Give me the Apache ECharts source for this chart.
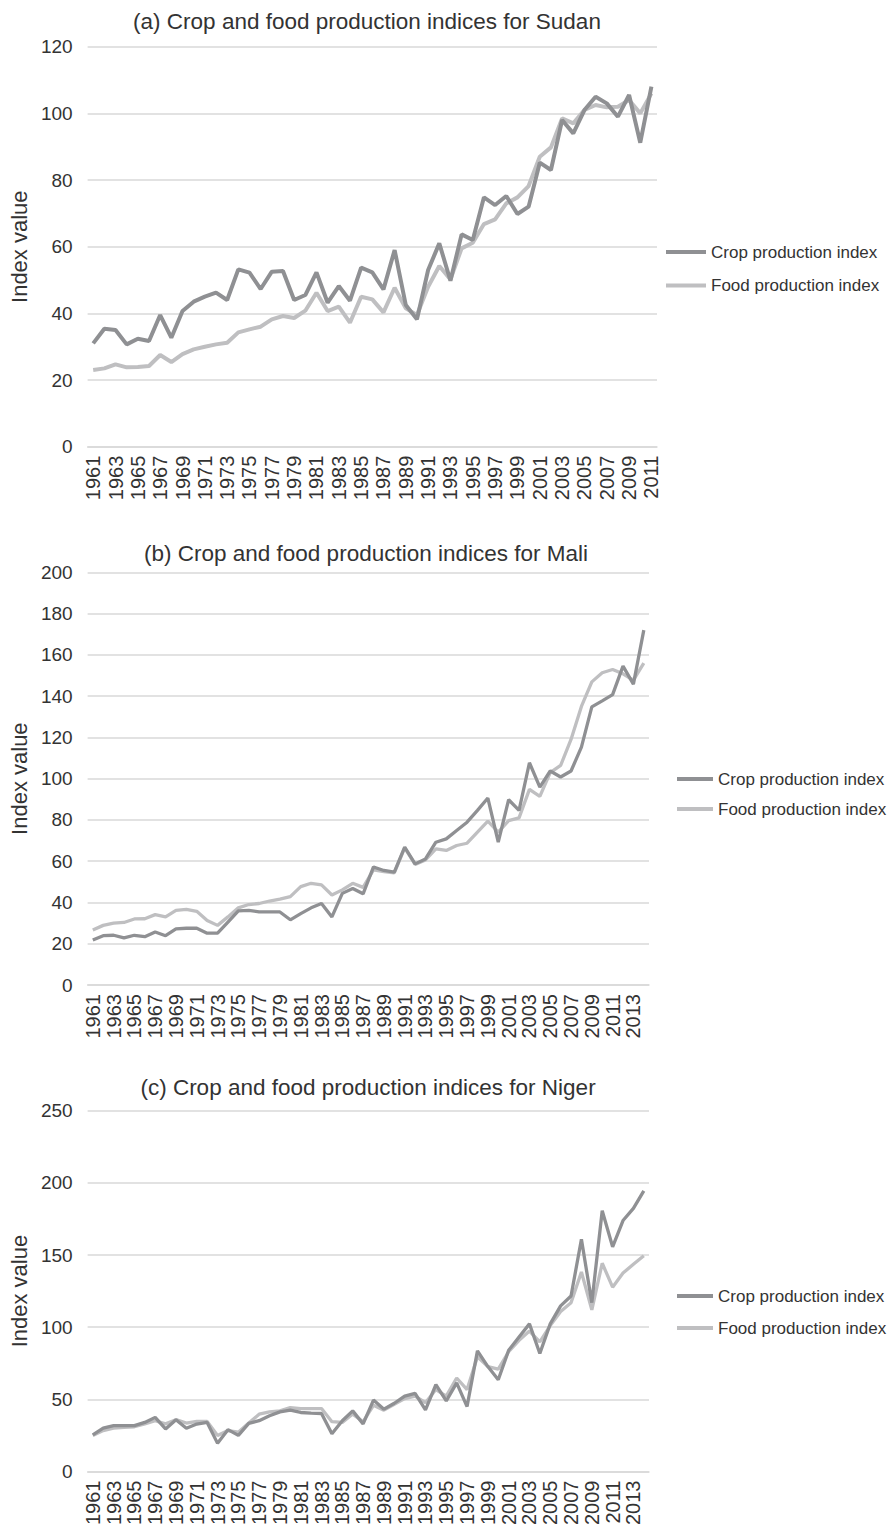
<!DOCTYPE html>
<html>
<head>
<meta charset="utf-8">
<title>Crop and food production indices</title>
<script src="https://cdn.jsdelivr.net/npm/echarts@6.0.0/dist/echarts.min.js"></script>
<style>
  html, body { margin: 0; padding: 0; background: #ffffff; }
  #chart { width: 887px; height: 1528px; }
</style>
</head>
<body>
<div id="chart"></div>
<script>
// Years on the category axes
const years = ['1961','1962','1963','1964','1965','1966','1967','1968','1969','1970',
  '1971','1972','1973','1974','1975','1976','1977','1978','1979','1980',
  '1981','1982','1983','1984','1985','1986','1987','1988','1989','1990',
  '1991','1992','1993','1994','1995','1996','1997','1998','1999','2000',
  '2001','2002','2003','2004','2005','2006','2007','2008','2009','2010',
  '2011','2012','2013','2014'];
const sudanYears = years.slice(0, 51);   // 1961-2011

// (a) Sudan
const sudanCrop = [31, 35.4, 35, 30.7, 32.4, 31.7, 39.5, 32.7, 40.7, 43.5,
  45, 46.2, 44, 53.2, 52.2, 47.3, 52.5, 52.7, 44, 45.5,
  52.3, 43.2, 48.2, 43.8, 53.7, 52.3, 47.2, 59, 42.5, 38.2,
  53, 61, 49.8, 63.7, 62, 74.8, 72.5, 75.2, 69.8, 72,
  85.2, 83, 98, 94, 101, 105, 103, 99, 105.5, 91.2,
  108];
const sudanFood = [23, 23.5, 24.7, 23.8, 23.9, 24.2, 27.5, 25.4, 27.8, 29.2,
  30, 30.7, 31.2, 34.3, 35.2, 36, 38.2, 39.2, 38.6, 40.8,
  46.2, 40.7, 42, 37.2, 45, 44.2, 40.3, 47.7, 41.5, 39.5,
  48, 54.2, 50.2, 59.5, 61.2, 66.8, 68.2, 73, 74.8, 78.2,
  87, 89.8, 98.5, 97, 101, 102.5, 101.8, 102, 104, 100,
  106];

// (b) Mali
const maliCrop = [21.8, 23.9, 24.1, 22.8, 24.1, 23.4, 25.7, 23.9, 27.2, 27.5,
  27.5, 25.1, 25.1, 30.5, 35.9, 36.2, 35.4, 35.4, 35.4, 31.6,
  34.6, 37.4, 39.5, 33, 44.4, 46.8, 44.2, 57.2, 55.5, 54.7,
  66.8, 58.7, 61.1, 69.2, 70.8, 74.9, 78.9, 84.6, 90.6, 69.2,
  89.8, 84.6, 107.7, 95.9, 103.7, 100.8, 103.7, 115.3, 134.8, 137.7,
  140.7, 154.5, 145.8, 172];
const maliFood = [26.7, 28.9, 30, 30.3, 32, 32.1, 34.1, 33, 36.2, 36.6,
  35.7, 31.3, 28.9, 33, 37.4, 39, 39.5, 40.7, 41.6, 42.8,
  47.7, 49.3, 48.5, 43.6, 46.1, 49.3, 47.3, 55.8, 55, 54.3,
  66.5, 58.4, 60.6, 66, 65.2, 67.6, 68.7, 74.1, 79.4, 74.1,
  79.7, 81, 94.8, 91.4, 102.9, 106.4, 119, 135, 146.9, 151.3,
  152.9, 150.8, 147.7, 156];

// (c) Niger
const nigerCrop = [25.4, 30, 31.8, 31.8, 31.8, 34, 37.5, 29.5, 35.9, 30,
  32.9, 34, 19.5, 29, 25, 33.4, 35.2, 38.6, 41.3, 42.5,
  40.9, 40.4, 40.2, 26.1, 35.2, 42, 33, 49.5, 43.2, 47.3,
  52.3, 54.1, 42.7, 60.2, 48.9, 61.4, 45, 83.6, 72.7, 63.6,
  84, 93.2, 102.3, 81.8, 102.3, 114.8, 121.6, 160.9, 117, 180.7,
  155.7, 173.9, 182.3, 194.5];
const nigerFood = [25, 28.4, 30, 30.6, 31, 32.9, 35.2, 33, 35.9, 33.6,
  34.7, 34.7, 25, 28.4, 27.2, 33.6, 39.7, 41.3, 42, 44.3,
  43.6, 43.6, 43.6, 34.5, 34, 39.8, 34.5, 45.9, 42.5, 46.6,
  50.5, 52.3, 47.7, 56.8, 52.3, 64.8, 56.8, 79.5, 72.7, 70.9,
  83, 90.9, 97.3, 89.8, 101.1, 110.9, 117, 138.2, 112, 144.3,
  127.7, 137.5, 143.6, 149.5];

const seriesNames = ['Crop production index', 'Food production index'];
const titles = [
  '(a) Crop and food production indices for Sudan',
  '(b) Crop and food production indices for Mali',
  '(c) Crop and food production indices for Niger'
];
const yTicks = [
  { max: 120, step: 20 },
  { max: 200, step: 20 },
  { max: 250, step: 50 }
];

const FONT = '"Liberation Sans", Arial, Helvetica, sans-serif';
const TEXT = '#333333';
const GRIDLINE = '#d9d9d9';
const CROP_COLOR = '#8f9093';
const FOOD_COLOR = '#bfbfc1';

// Layout of the three stacked panels
const panels = [
  { cats: sudanYears, crop: sudanCrop, food: sudanFood,
    grid: { left: 77, top: 46.7, width: 580, height: 400 },
    nameGap: 41, lineWidth: 4, titleX: 367, titleY: 21,
    legend: { left: 666, top: 243.5, itemGap: 16.5, itemWidth: 40 } },
  { cats: years, crop: maliCrop, food: maliFood,
    grid: { left: 82, top: 572.3, width: 567, height: 412.7 },
    nameGap: 51, lineWidth: 3.3, titleX: 366, titleY: 553,
    legend: { left: 677, top: 770.5, itemGap: 13, itemWidth: 36 } },
  { cats: years, crop: nigerCrop, food: nigerFood,
    grid: { left: 85, top: 1110.7, width: 564, height: 366 },
    nameGap: 54, lineWidth: 3.3, titleX: 368, titleY: 1087,
    legend: { left: 677, top: 1287.5, itemGap: 15, itemWidth: 36 } }
];

const option = {
  animation: false,
  backgroundColor: '#ffffff',
  textStyle: { fontFamily: FONT },
  grid: [], xAxis: [], yAxis: [], series: [], legend: [], graphic: []
};

panels.forEach((p, i) => {
  option.grid.push(Object.assign({ containLabel: false }, p.grid));

  option.xAxis.push({
    type: 'category',
    gridIndex: i,
    data: p.cats,
    boundaryGap: true,
    axisTick: { show: false },
    axisLine: { show: true, lineStyle: { color: GRIDLINE, width: 1.5 } },
    axisLabel: {
      interval: 1, rotate: 90, margin: 9,
      fontSize: 20, color: TEXT, fontFamily: FONT
    },
    splitLine: { show: false }
  });

  option.yAxis.push({
    type: 'value',
    gridIndex: i,
    min: 0, max: yTicks[i].max, interval: yTicks[i].step,
    name: 'Index value',
    nameLocation: 'middle',
    nameGap: p.nameGap,
    nameTextStyle: { fontSize: 22, color: TEXT, fontFamily: FONT },
    axisLine: { show: false },
    axisTick: { show: false },
    axisLabel: { fontSize: 19, color: TEXT, margin: 15, fontFamily: FONT },
    splitLine: { show: true, lineStyle: { color: GRIDLINE, width: 1.5 } }
  });

  option.series.push({
    name: seriesNames[0], type: 'line',
    xAxisIndex: i, yAxisIndex: i,
    data: p.crop, symbol: 'none', z: 3,
    lineStyle: { color: CROP_COLOR, width: p.lineWidth },
    itemStyle: { color: CROP_COLOR }
  });
  option.series.push({
    name: seriesNames[1], type: 'line',
    xAxisIndex: i, yAxisIndex: i,
    data: p.food, symbol: 'none', z: 2,
    lineStyle: { color: FOOD_COLOR, width: p.lineWidth },
    itemStyle: { color: FOOD_COLOR }
  });

  option.legend.push({
    data: seriesNames,
    orient: 'vertical',
    left: p.legend.left,
    top: p.legend.top,
    itemGap: p.legend.itemGap,
    itemWidth: p.legend.itemWidth,
    itemHeight: 4,
    itemTextGap: 3,
    icon: 'rect',
    selectedMode: false,
    padding: 0,
    textStyle: { fontSize: 17, color: TEXT, fontFamily: FONT }
  });

  option.graphic.push({
    type: 'text',
    x: p.titleX, y: p.titleY,
    style: {
      text: titles[i],
      fontSize: 22.5, fontFamily: FONT, fill: TEXT,
      align: 'center', verticalAlign: 'middle'
    }
  });
});

const chart = echarts.init(document.getElementById('chart'), null, { renderer: 'svg' });
chart.setOption(option);
</script>
</body>
</html>
